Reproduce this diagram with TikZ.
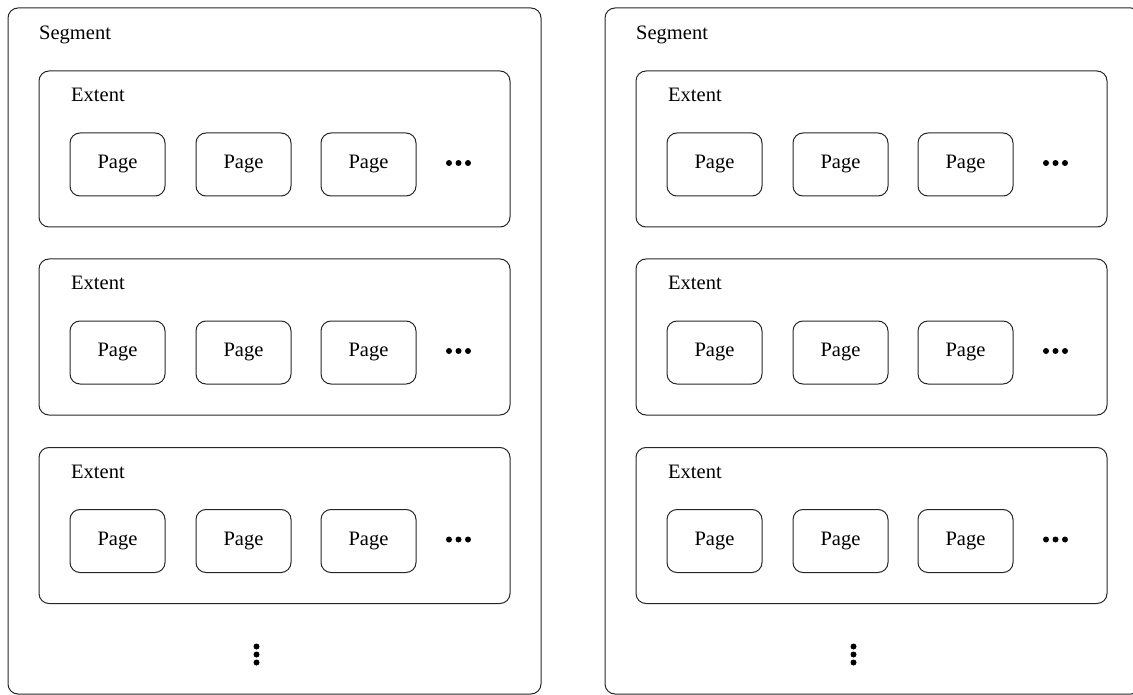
\documentclass[tikz,border=0pt]{standalone}
\usepackage{fontspec}
\setmainfont{Liberation Serif}
\usetikzlibrary{positioning}
\tikzset{
	segbox/.style={draw=black!85, line width=1pt, rounded corners=10pt},
	extbox/.style={draw=black!85, line width=1pt, rounded corners=10pt, minimum width=471pt, minimum height=156pt, inner sep=0pt},
	pagebox/.style={draw=black!85, line width=1pt, rounded corners=10pt, minimum width=95pt, minimum height=63pt, inner sep=0pt, font=\fontsize{20.5}{24}\selectfont},
	boxlabel/.style={anchor=base west, inner sep=0pt, font=\fontsize{20.5}{24}\selectfont},
	dot/.style={circle, fill=black, inner sep=0pt, minimum size=6pt}
}

\begin{document}
\begin{tikzpicture}[x=1pt, y=-1pt]
			%%%%% START %%%%%
			\useasboundingbox (0, 0) rectangle (1133, 695);
			
			% left segment
			\draw[segbox] (8, 8) rectangle (541, 694);
			\node[boxlabel] (segA) at (39, 39.5) {Segment};
			
			\node[extbox] (extA1) at (274.5, 149) {};
			\node[boxlabel] (extA1lbl) at (71, 102) {Extent};
			\node[pagebox] (pgA11) at (117.5, 164.5) {Page};
			\node[pagebox] (pgA12) at (243.5, 164.5) {Page};
			\node[pagebox] (pgA13) at (368.5, 164.5) {Page};
			\node[dot] (dA11) at (449, 163) {};
			\node[dot] (dA12) at (458.5, 163) {};
			\node[dot] (dA13) at (468, 163) {};
			
			\node[extbox] (extA2) at (274.5, 337) {};
			\node[boxlabel] (extA2lbl) at (71, 290) {Extent};
			\node[pagebox] (pgA21) at (117.5, 352.5) {Page};
			\node[pagebox] (pgA22) at (243.5, 352.5) {Page};
			\node[pagebox] (pgA23) at (368.5, 352.5) {Page};
			\node[dot] (dA21) at (449, 351) {};
			\node[dot] (dA22) at (458.5, 351) {};
			\node[dot] (dA23) at (468, 351) {};
			
			\node[extbox] (extA3) at (274.5, 525.5) {};
			\node[boxlabel] (extA3lbl) at (71, 478.5) {Extent};
			\node[pagebox] (pgA31) at (117.5, 541) {Page};
			\node[pagebox] (pgA32) at (243.5, 541) {Page};
			\node[pagebox] (pgA33) at (368.5, 541) {Page};
			\node[dot] (dA31) at (449, 539.5) {};
			\node[dot] (dA32) at (458.5, 539.5) {};
			\node[dot] (dA33) at (468, 539.5) {};
			
			\node[dot] (vA1) at (256.5, 646.5) {};
			\node[dot] (vA2) at (256.5, 654.5) {};
			\node[dot] (vA3) at (256.5, 662.5) {};
			
			% right segment (runs past the right edge)
			\draw[segbox] (605, 8) rectangle (1141, 694);
			\node[boxlabel] (segB) at (636, 39.5) {Segment};
			
			\node[extbox] (extB1) at (871.5, 149) {};
			\node[boxlabel] (extB1lbl) at (668, 102) {Extent};
			\node[pagebox] (pgB11) at (714.5, 164.5) {Page};
			\node[pagebox] (pgB12) at (840.5, 164.5) {Page};
			\node[pagebox] (pgB13) at (965.5, 164.5) {Page};
			\node[dot] (dB11) at (1046, 163) {};
			\node[dot] (dB12) at (1055.5, 163) {};
			\node[dot] (dB13) at (1065, 163) {};
			
			\node[extbox] (extB2) at (871.5, 337) {};
			\node[boxlabel] (extB2lbl) at (668, 290) {Extent};
			\node[pagebox] (pgB21) at (714.5, 352.5) {Page};
			\node[pagebox] (pgB22) at (840.5, 352.5) {Page};
			\node[pagebox] (pgB23) at (965.5, 352.5) {Page};
			\node[dot] (dB21) at (1046, 351) {};
			\node[dot] (dB22) at (1055.5, 351) {};
			\node[dot] (dB23) at (1065, 351) {};
			
			\node[extbox] (extB3) at (871.5, 525.5) {};
			\node[boxlabel] (extB3lbl) at (668, 478.5) {Extent};
			\node[pagebox] (pgB31) at (714.5, 541) {Page};
			\node[pagebox] (pgB32) at (840.5, 541) {Page};
			\node[pagebox] (pgB33) at (965.5, 541) {Page};
			\node[dot] (dB31) at (1046, 539.5) {};
			\node[dot] (dB32) at (1055.5, 539.5) {};
			\node[dot] (dB33) at (1065, 539.5) {};
			
			\node[dot] (vB1) at (853.5, 646.5) {};
			\node[dot] (vB2) at (853.5, 654.5) {};
			\node[dot] (vB3) at (853.5, 662.5) {};
			%%%%% END %%%%%
		\end{tikzpicture}
\end{document}
